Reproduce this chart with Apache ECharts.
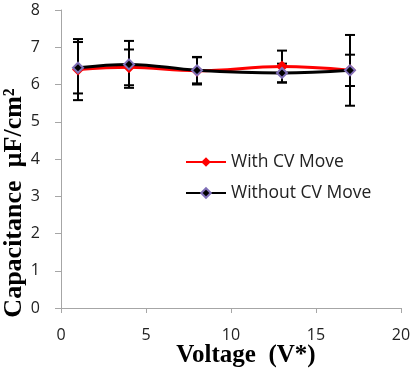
<!DOCTYPE html>
<html>
<head>
<meta charset="utf-8">
<script src="https://cdn.jsdelivr.net/npm/echarts@6/dist/echarts.min.js"></script>
<style>
  html, body { margin: 0; padding: 0; background: #fff; }
  #chart { width: 413px; height: 368px; }
</style>
</head>
<body>
<div id="chart"></div>
<script>
// ---- data ----
var voltage = [1, 4, 8, 13, 17];
var withCV = [6.40, 6.46, 6.37, 6.48, 6.38];
var withoutCV = [6.45, 6.54, 6.38, 6.31, 6.38];
var withErr = [0.82, 0.48, 0.37, 0.43, 0.95];
var withoutErr = [0.69, 0.63, 0.35, 0.25, 0.42];
var xTicks = [0, 5, 10, 15, 20];
var yTicks = [0, 1, 2, 3, 4, 5, 6, 7, 8];

function renderChart() {
    var dom = document.getElementById('chart');
    var myChart = echarts.init(dom);

    function pairs(ys) {
        return voltage.map(function (x, i) { return [x, ys[i]]; });
    }
    function errData(ys, es) {
        return voltage.map(function (x, i) { return [x, ys[i] - es[i], ys[i] + es[i]]; });
    }

    function renderErr(params, api) {
        var x = api.value(0);
        var lo = api.coord([x, api.value(1)]);
        var hi = api.coord([x, api.value(2)]);
        var w = 5;
        var style = { stroke: '#000', lineWidth: 2 };
        return {
            type: 'group',
            children: [
                { type: 'line', shape: { x1: lo[0], y1: lo[1], x2: hi[0], y2: hi[1] }, style: style },
                { type: 'line', shape: { x1: lo[0] - w, y1: lo[1], x2: lo[0] + w, y2: lo[1] }, style: style },
                { type: 'line', shape: { x1: hi[0] - w, y1: hi[1], x2: hi[0] + w, y2: hi[1] }, style: style }
            ]
        };
    }

    var axisGray = '#a6a6a6';
    var option = {
        backgroundColor: '#FFFFFF',
        animation: false,
        grid: {
            left: 61,
            right: 12,
            top: 10,
            bottom: 60,
            outerBoundsMode: 'none'
        },
        legend: {
            data: ['With CV Move', 'Without CV Move'],
            orient: 'vertical',
            left: 180,
            top: 148,
            itemWidth: 40,
            itemHeight: 12,
            itemGap: 13,
            textStyle: {
                fontFamily: 'Open Sans',
                fontSize: 17.5,
                color: '#222'
            }
        },
        xAxis: {
            type: 'value',
            min: xTicks[0],
            max: xTicks[xTicks.length - 1],
            interval: 5,
            name: 'Voltage  (V*)',
            nameLocation: 'middle',
            nameGap: 35,
            nameMoveOverlap: false,
            nameTextStyle: {
                fontFamily: 'Liberation Serif',
                fontWeight: 'bold',
                fontSize: 25,
                color: '#000',
                padding: [0, 0, 0, 30]
            },
            axisLine: { show: true, lineStyle: { color: axisGray, width: 1 } },
            axisTick: { show: true, length: 5, lineStyle: { color: axisGray } },
            axisLabel: {
                fontFamily: 'Open Sans',
                fontSize: 16,
                color: '#222',
                margin: 19
            },
            splitLine: { show: false }
        },
        yAxis: {
            type: 'value',
            min: yTicks[0],
            max: yTicks[yTicks.length - 1],
            interval: 1,
            name: 'Capacitance  µF/cm²',
            nameLocation: 'middle',
            nameGap: 34,
            nameRotate: 90,
            nameMoveOverlap: false,
            nameTextStyle: {
                fontFamily: 'Liberation Serif',
                fontWeight: 'bold',
                fontSize: 26,
                color: '#000',
                padding: [0, 88, 0, 0]
            },
            axisLine: { show: true, lineStyle: { color: axisGray, width: 1 } },
            axisTick: { show: true, length: 6, lineStyle: { color: axisGray } },
            axisLabel: {
                fontFamily: 'Open Sans',
                fontSize: 16,
                color: '#222',
                margin: 21
            },
            splitLine: { show: false }
        },
        series: [
            {
                name: 'With CV Move',
                type: 'line',
                smooth: 0.4,
                z: 3,
                data: pairs(withCV),
                symbol: 'diamond',
                symbolSize: 12,
                itemStyle: { color: '#ff0000' },
                lineStyle: { color: '#ff0000', width: 3 }
            },
            {
                name: 'Without CV Move',
                type: 'line',
                smooth: 0.4,
                z: 4,
                data: pairs(withoutCV),
                symbol: 'diamond',
                symbolSize: 10,
                itemStyle: { color: '#000000', borderColor: '#8070b8', borderWidth: 2 },
                lineStyle: { color: '#000000', width: 3 }
            },
            {
                name: 'errWith',
                type: 'custom',
                z: 2,
                renderItem: renderErr,
                encode: { x: 0, y: [1, 2] },
                data: errData(withCV, withErr)
            },
            {
                name: 'errWithout',
                type: 'custom',
                z: 2,
                renderItem: renderErr,
                encode: { x: 0, y: [1, 2] },
                data: errData(withoutCV, withoutErr)
            }
        ]
    };

    if (option && typeof option === 'object') {
        myChart.setOption(option);
    }
}
renderChart();
</script>
</body>
</html>
